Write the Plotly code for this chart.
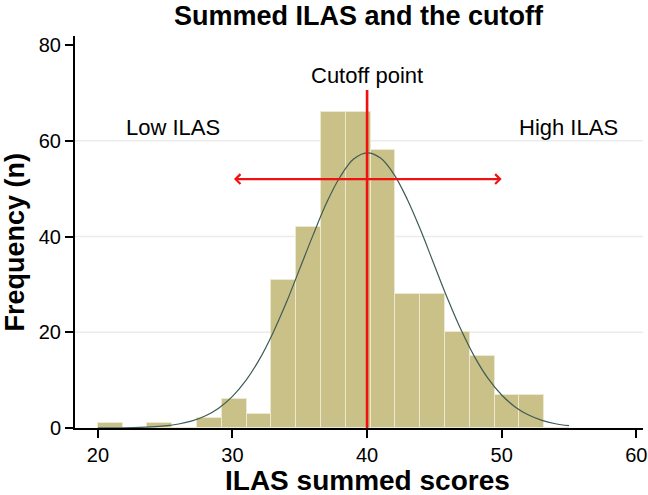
import plotly.graph_objects as go

# ---- data ----
bin_start = 20.0
bin_end = 55.0
n_bins = 19
counts = [1, 0, 1, 0, 2, 6, 3, 31, 42, 66, 66, 58, 28, 28, 20, 15, 7, 7, 0]

# fitted normal curve
curve_x = [20, 22, 24, 25, 26, 27, 28, 29, 30, 31, 32, 33, 34, 35, 36, 37, 38,
           39, 40, 41, 42, 43, 44, 45, 46, 47, 48, 49, 50, 51, 52, 53, 54, 55]
curve_y = [0.01, 0.05, 0.23, 0.45, 0.84, 1.49, 2.56, 4.2, 6.6, 9.93, 14.33, 19.82,
           26.2, 33.3, 40.4, 47.1, 52.5, 56.2, 57.5, 56.4, 53.0, 47.7, 41.2, 34.0,
           26.9, 20.4, 14.8, 10.3, 6.89, 4.4, 2.7, 1.58, 0.89, 0.48]

cutoff = 40
cutoff_top = 70.6
arrow_y = 52
arrow_from = 30
arrow_to = 50

x_ticks = [20, 30, 40, 50, 60]
y_ticks = [0, 20, 40, 60, 80]
grid_y = [20, 40, 60]

labels = {"Cutoff point": (40, 73.7), "Low ILAS": (25.6, 62.7), "High ILAS": (55.0, 62.7)}

title_text = "Summed ILAS and the cutoff"
x_title = "ILAS summed scores"
y_title = "Frequency (n)"

# ---- build ----
width = (bin_end - bin_start) / n_bins
centers = [bin_start + width * (i + 0.5) for i in range(n_bins)]

FONT = "Liberation Sans, Arial, Helvetica, sans-serif"

fig = go.Figure()
fig.add_trace(go.Bar(
    x=centers, y=counts, width=width,
    marker=dict(color="#C9C187", line=dict(color="#ECE8D2", width=1)),
    hoverinfo="x+y", showlegend=False,
))
fig.add_trace(go.Scatter(
    x=curve_x, y=curve_y, mode="lines", line=dict(color="#3E5C55", width=1.2, shape="spline"),
    showlegend=False, hoverinfo="skip",
))
fig.add_trace(go.Scatter(
    x=[cutoff, cutoff], y=[0, cutoff_top], mode="lines",
    line=dict(color="#F01010", width=2.6), showlegend=False, hoverinfo="skip",
))

shapes = []
for g in grid_y:
    shapes.append(dict(type="line", xref="paper", x0=0, x1=1, yref="y", y0=g, y1=g,
                       line=dict(color="#EBEBEB", width=1.5), layer="below"))

annotations = [
    dict(x=arrow_to, y=arrow_y, ax=arrow_from, ay=arrow_y, xref="x", yref="y",
         axref="x", ayref="y", text="", showarrow=True, arrowside="end+start",
         arrowhead=4, arrowsize=0.8, arrowwidth=2.4, arrowcolor="#F01010",
         standoff=0, startstandoff=0),
]
for t, (lx, ly) in labels.items():
    annotations.append(dict(x=lx, y=ly, xref="x", yref="y", text=t, showarrow=False,
                            font=dict(family=FONT, size=22, color="black"),
                            xanchor="center", yanchor="middle"))

# titles placed as paper annotations (plot area: 75..643 px wide, 36..428 px tall)
annotations += [
    dict(x=0.5, y=1.052, xref="paper", yref="paper", text="<b>%s</b>" % title_text,
         showarrow=False, xanchor="center", yanchor="middle",
         font=dict(family=FONT, size=27, color="black")),
    dict(x=0.515, y=-0.135, xref="paper", yref="paper", text="<b>%s</b>" % x_title,
         showarrow=False, xanchor="center", yanchor="middle",
         font=dict(family=FONT, size=28, color="black")),
    dict(x=-0.106, y=0.475, xref="paper", yref="paper", text="<b>%s</b>" % y_title,
         showarrow=False, xanchor="center", yanchor="middle", textangle=-90,
         font=dict(family=FONT, size=27, color="black")),
]

fig.update_layout(
    width=648, height=495,
    margin=dict(l=75, r=5, t=36, b=67, autoexpand=False),
    paper_bgcolor="white", plot_bgcolor="white",
    font=dict(family=FONT, color="black"),
    shapes=shapes, annotations=annotations, bargap=0,
)
fig.update_xaxes(
    range=[18.3, 60.5], tickvals=x_ticks, ticks="outside", ticklen=8, tickwidth=2,
    tickcolor="black", showline=True, linecolor="black", linewidth=2, showgrid=False,
    zeroline=False, tickfont=dict(size=20), automargin=False,
)
fig.update_yaxes(
    range=[0, 81.9], tickvals=y_ticks, ticks="outside", ticklen=8, tickwidth=2,
    tickcolor="black", showline=True, linecolor="black", linewidth=2, showgrid=False,
    zeroline=False, tickfont=dict(size=20), automargin=False,
)

fig.write_html("out.html", config={"displayModeBar": False},
               post_script="document.body.style.margin='0px';")
